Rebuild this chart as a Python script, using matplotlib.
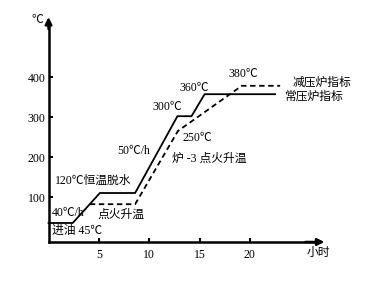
import matplotlib
matplotlib.use("Agg")
import matplotlib.pyplot as plt

# 常压炉指标 (solid) and 减压炉指标 (dashed): hours vs temperature
solid_h = [0, 2.4, 5.1, 8.6, 12.8, 14.2, 15.5, 22.5]
solid_t = [35, 35, 110, 110, 302, 302, 357, 357]
dashed_h = [4.1, 8.6, 12.85, 19.2, 23.0]
dashed_t = [82, 82, 265, 378, 378]

xticks = [5, 10, 15, 20]
yticks = [100, 200, 300, 400]

FONT = ['Liberation Serif', 'Noto Sans CJK SC']
plt.rcParams['font.family'] = FONT

fig = plt.figure(figsize=(3.81, 2.86), dpi=100)
ax = fig.add_axes([0, 0, 1, 1])
ax.set_xlim(-4.82, 33.02)
ax.set_ylim(-122.5, 592.5)

x0, y0 = 0, -12.5
for side in ('top', 'right'):
    ax.spines[side].set_visible(False)
ax.spines['left'].set_position(('data', x0))
ax.spines['bottom'].set_position(('data', y0))
ax.spines['left'].set_bounds(y0, 535)
ax.spines['bottom'].set_bounds(x0, 26.5)
for side in ('left', 'bottom'):
    ax.spines[side].set_linewidth(1.8)

# arrow heads
ax.annotate('', xy=(0, 550), xytext=(0, 520),
            arrowprops=dict(arrowstyle='-|>', color='black', lw=1.8,
                            mutation_scale=10, shrinkA=0, shrinkB=0))
ax.annotate('', xy=(27.4, y0), xytext=(25.5, y0),
            arrowprops=dict(arrowstyle='-|>', color='black', lw=1.8,
                            mutation_scale=10, shrinkA=0, shrinkB=0))

ax.set_xticks(xticks)
ax.set_yticks(yticks)
ax.tick_params(axis='both', direction='in', length=3, width=1.5,
               labelsize=8.5, colors='black')
ax.tick_params(axis='x', pad=5)
ax.tick_params(axis='y', pad=2)

ax.plot(solid_h, solid_t, color='black', lw=1.3)
ax.plot(dashed_h, dashed_t, color='black', lw=1.3, ls=(0, (3, 2)))

fs = 8.5
ax.text(-1.1, 542, '℃', fontsize=fs, ha='center', va='center')
ax.text(26.8, -40, '小时', fontsize=fs, ha='center', va='center')
ax.text(2.83, 15, '进油 45℃', fontsize=fs, ha='center', va='center')
ax.text(0.35, 60, '40℃/h', fontsize=fs, ha='left', va='center')
ax.text(4.9, 57, '点火升温', fontsize=fs, ha='left', va='center')
ax.text(0.65, 140, '120℃恒温脱水', fontsize=fs, ha='left', va='center')
ax.text(6.8, 215, '50℃/h', fontsize=fs, ha='left', va='center')
ax.text(12.26, 195, '炉 -3 点火升温', fontsize=fs, ha='left', va='center')
ax.text(13.26, 247, '250℃', fontsize=fs, ha='left', va='center')
ax.text(10.28, 325, '300℃', fontsize=fs, ha='left', va='center')
ax.text(12.96, 372, '360℃', fontsize=fs, ha='left', va='center')
ax.text(17.82, 407, '380℃', fontsize=fs, ha='left', va='center')
ax.text(24.27, 387, '减压炉指标', fontsize=fs, ha='left', va='center')
ax.text(23.48, 350, '常压炉指标', fontsize=fs, ha='left', va='center')

fig.savefig('out.png', dpi=100)
